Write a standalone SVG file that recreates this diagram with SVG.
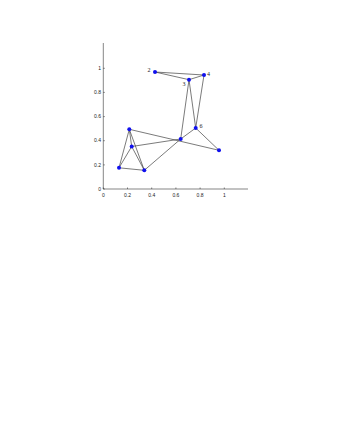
<svg xmlns="http://www.w3.org/2000/svg" width="346" height="448" viewBox="0 0 346 448">
<style>
.ax{stroke:#333;stroke-width:0.6;fill:none}
.tk{font-family:"Liberation Sans",Arial,sans-serif;font-size:5px;fill:#222}
.e{stroke:#222;stroke-width:0.6;fill:none}
.n{fill:#1010ee}
.lb{font-family:"Liberation Serif","Times New Roman",serif;font-size:6px;fill:#222}
</style>
<rect width="346" height="448" fill="#fff"/>
<g id="axes">
<path class="ax" d="M103.3,43 V189 H248"/>
<path class="ax" d="M103.3,189 v-1.5 M127.5,189 v-1.5 M151.7,189 v-1.5 M175.9,189 v-1.5 M200.1,189 v-1.5 M224.3,189 v-1.5 M103.3,189 h1.5 M103.3,164.9 h1.5 M103.3,140.7 h1.5 M103.3,116.6 h1.5 M103.3,92.4 h1.5 M103.3,68.3 h1.5"/>
<g class="tk" text-anchor="middle">
<text x="103.3" y="197">0</text>
<text x="127.5" y="197">0.2</text>
<text x="151.7" y="197">0.4</text>
<text x="175.9" y="197">0.6</text>
<text x="200.1" y="197">0.8</text>
<text x="224.3" y="197">1</text>
</g>
<g class="tk" text-anchor="end">
<text x="101" y="190.7">0</text>
<text x="101" y="166.6">0.2</text>
<text x="101" y="142.4">0.4</text>
<text x="101" y="118.3">0.6</text>
<text x="101" y="94.1">0.8</text>
<text x="101" y="70">1</text>
</g>
</g>
<g id="edges">
<line class="e" x1="155" y1="72" x2="204" y2="75"/>
<line class="e" x1="155" y1="72" x2="189" y2="79.7"/>
<line class="e" x1="189" y1="79.7" x2="204" y2="75"/>
<line class="e" x1="189" y1="79.7" x2="180.7" y2="139"/>
<line class="e" x1="189" y1="79.7" x2="195.7" y2="128"/>
<line class="e" x1="204" y1="75" x2="195.7" y2="128"/>
<line class="e" x1="195.7" y1="128" x2="180.7" y2="139"/>
<line class="e" x1="195.7" y1="128" x2="219" y2="150.3"/>
<line class="e" x1="129.3" y1="129.3" x2="219" y2="150.3"/>
<line class="e" x1="131.7" y1="146.5" x2="180.7" y2="139"/>
<line class="e" x1="144.3" y1="170.3" x2="180.7" y2="139"/>
<line class="e" x1="129.3" y1="129.3" x2="131.7" y2="146.5"/>
<line class="e" x1="129.3" y1="129.3" x2="119" y2="167.8"/>
<line class="e" x1="129.3" y1="129.3" x2="144.3" y2="170.3"/>
<line class="e" x1="131.7" y1="146.5" x2="119" y2="167.8"/>
<line class="e" x1="131.7" y1="146.5" x2="144.3" y2="170.3"/>
<line class="e" x1="119" y1="167.8" x2="144.3" y2="170.3"/>
</g>
<g id="n2"><circle class="n" cx="155" cy="72" r="2"/><text class="lb" x="147.5" y="71.5">2</text></g>
<g id="n3"><circle class="n" cx="189" cy="79.7" r="2"/><text class="lb" x="182.5" y="86.3">3</text></g>
<g id="n4"><circle class="n" cx="204" cy="75" r="2"/><text class="lb" x="207" y="76">4</text></g>
<g id="n6"><circle class="n" cx="195.7" cy="128" r="2"/><text class="lb" x="199.5" y="128">6</text></g>
<g id="n5"><circle class="n" cx="180.7" cy="139" r="2"/></g>
<g id="n7"><circle class="n" cx="219" cy="150.3" r="2"/></g>
<g id="n8"><circle class="n" cx="129.3" cy="129.3" r="2"/></g>
<g id="n9"><circle class="n" cx="131.7" cy="146.5" r="2"/></g>
<g id="n10"><circle class="n" cx="119" cy="167.8" r="2"/></g>
<g id="n11"><circle class="n" cx="144.3" cy="170.3" r="2"/></g>
</svg>
